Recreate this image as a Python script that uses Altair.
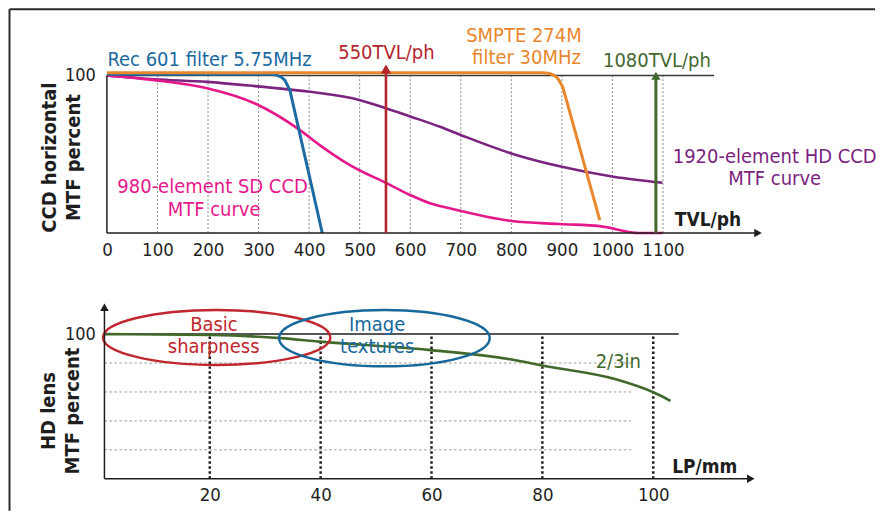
import altair as alt
import pandas as pd

FONT = "DejaVu Sans Condensed, Liberation Sans Narrow, Arial Narrow, sans-serif"
INK = "#1e1e1e"

# ---------------- top panel data: CCD horizontal MTF vs TVL/ph ----------------
tvl_ticks = [0, 100, 200, 300, 400, 500, 600, 700, 800, 900, 1000, 1100]
tvl_grid = [100, 200, 300, 400, 500, 600, 700, 800, 900, 1000, 1100]

rec601_x = [0, 323, 335, 345, 352, 362, 426]
rec601_y = [100.8, 100.8, 100.3, 98.9, 97.0, 90.6, 0]

smpte_x = [0, 862, 876, 886, 893, 902, 975]
smpte_y = [101.7, 101.7, 101.2, 99.8, 97.6, 92.5, 8.2]

sd_ccd_x = [0, 94, 198, 293, 382, 421, 474, 499, 553, 600, 639, 678, 801, 895, 975, 1053, 1099]
sd_ccd_y = [100, 97.0, 91.9, 82.2, 65.3, 55.8, 44.4, 39.9, 31.7, 24.1, 18.9, 15.7, 7.6, 5.7, 4.4, 0, 0]

hd_ccd_x = [0, 94, 198, 293, 402, 501, 553, 580, 600, 659, 701, 800, 900, 1002, 1099]
hd_ccd_y = [100, 97.6, 95.9, 93.2, 89.6, 84.3, 79.0, 76.2, 74.0, 67.4, 62.1, 50.5, 42.0, 35.7, 31.9]

marker_550 = 552
marker_1080 = 1086

top_note_text = ["Rec 601 filter 5.75MHz", "550TVL/ph", "SMPTE 274M", "filter 30MHz",
                 "1080TVL/ph", "1920-element HD CCD", "MTF curve", "980-element SD CCD", "MTF curve"]
top_note_x = [203, 553, 825, 830, 1088, 1321, 1321, 209, 212]
top_note_y = [105.8, 110.7, 121.5, 107.4, 105.5, 44.6, 30.4, 25.2, 10.8]
top_note_series = ["rec601", "m550", "smpte", "smpte", "m1080", "hd", "hd", "sd", "sd"]

# ---------------- bottom panel data: HD lens MTF vs LP/mm ----------------
lp_ticks = [20, 40, 60, 80, 100]
lens_grid_y = [80, 60, 40, 20]
lens_x = [1, 20.3, 32.7, 39.9, 59.4, 74.2, 80.4, 93.1, 100.1, 103.1]
lens_y = [100, 99.4, 97.2, 94.8, 89.1, 82.6, 78.0, 68.9, 59.6, 53.9]

# regions: centre x, centre y, half width (LP/mm), half height (percent)
region_names = ["basic", "texture"]
region_cx = [21.25, 51.5]
region_cy = [97.7, 97.2]
region_hw = [20.5, 19.0]
region_hh = [19.0, 19.5]

bot_note_text = ["Basic", "sharpness", "Image", "textures", "2/3in"]
bot_note_x = [20.75, 20.7, 50.2, 50.2, 93.7]
bot_note_y = [102.2, 87.2, 102.2, 87.2, 76.9]
bot_note_series = ["basic", "basic", "texture", "texture", "lens"]

# ---------------- styling ----------------
COL = {"rec601": "#1b6aa2", "smpte": "#e8872c", "sd": "#e5188b", "hd": "#7b247f",
       "m550": "#b3262d", "m1080": "#44672e", "basic": "#c0272e", "texture": "#17699b",
       "lens": "#41692c"}
NOTE_SIZE = 20

TOP_W, TOP_H = 666, 213
TOP_XDOM, TOP_YDOM = [-6, 1310], [0, 135]
BOT_W, BOT_H = 661, 181
BOT_XDOM, BOT_YDOM = [0.9, 120], [0, 125]

SX_T = alt.Scale(domain=TOP_XDOM, nice=False, zero=False)
SY_T = alt.Scale(domain=TOP_YDOM, nice=False, zero=False)
SX_B = alt.Scale(domain=BOT_XDOM, nice=False, zero=False)
SY_B = alt.Scale(domain=BOT_YDOM, nice=False, zero=False)

AX_XT = alt.Axis(values=tvl_ticks, format="d", domain=False, ticks=False, grid=False,
                 labelPadding=7, labelFontSize=18.5, labelFont=FONT, labelFontWeight="normal",
                 labelColor=INK, labelOverlap=False, labelFlush=False, title=None)
AX_YT = alt.Axis(values=[100], format="d", domain=False, ticks=False, grid=False,
                 labelPadding=8.5, labelFontSize=18, labelFont=FONT, labelFontWeight="normal",
                 labelColor=INK,
                 title=["CCD horizontal", "MTF percent"], titleFont=FONT, titleFontSize=20,
                 titleFontWeight="bold", titleColor=INK, titleAngle=270, titleAlign="center",
                 titleBaseline="middle", titleLineHeight=24, titleX=-54.7, titleY=137)
AX_XB = alt.Axis(values=lp_ticks, format="d", domain=False, ticks=False, grid=False,
                 labelPadding=7, labelFontSize=18.5, labelFont=FONT, labelFontWeight="normal",
                 labelColor=INK, labelOverlap=False, labelFlush=False, title=None)
AX_YB = alt.Axis(values=[100], format="d", domain=False, ticks=False, grid=False,
                 labelPadding=8.5, labelFontSize=18, labelFont=FONT, labelFontWeight="normal",
                 labelColor=INK,
                 title=["HD lens", "MTF percent"], titleFont=FONT, titleFontSize=20,
                 titleFontWeight="bold", titleColor=INK, titleAngle=270, titleAlign="center",
                 titleBaseline="middle", titleLineHeight=24, titleX=-55.1, titleY=112.7)

XT = alt.X("x:Q", scale=SX_T, axis=AX_XT)
YT = alt.Y("y:Q", scale=SY_T, axis=AX_YT)
XB = alt.X("x:Q", scale=SX_B, axis=AX_XB)
YB = alt.Y("y:Q", scale=SY_B, axis=AX_YB)


def df(**cols):
    return pd.DataFrame(cols)


# ================= top panel =================
t_grid = alt.Chart(df(x=tvl_grid, y=[0] * len(tvl_grid), y2=[100] * len(tvl_grid))).mark_rule(
    color="#8a8a8a", strokeWidth=1, strokeDash=[2, 2]).encode(x=XT, y=YT, y2="y2:Q")
t_line100 = alt.Chart(df(x=[0], x2=[1201], y=[100])).mark_rule(
    color="#3a3a3a", strokeWidth=1.4).encode(x=XT, x2="x2:Q", y=YT)


def curve(xs, ys, key, w, interp):
    return alt.Chart(df(x=xs, y=ys)).mark_line(
        color=COL[key], strokeWidth=w, interpolate=interp).encode(x=XT, y=YT)


t_hd = curve(hd_ccd_x, hd_ccd_y, "hd", 2.6, "monotone")
t_sd = curve(sd_ccd_x, sd_ccd_y, "sd", 2.6, "monotone")
t_rec = curve(rec601_x, rec601_y, "rec601", 3, "linear")
t_smpte = curve(smpte_x, smpte_y, "smpte", 3, "linear")

t_axes_v = alt.Chart(df(x=[0], y=[0], y2=[100])).mark_rule(color=INK, strokeWidth=1.5).encode(
    x=XT, y=YT, y2="y2:Q")
t_axes_h = alt.Chart(df(x=[0], x2=[1288], y=[0])).mark_rule(color=INK, strokeWidth=1.5).encode(
    x=XT, x2="x2:Q", y=YT)
t_axes_arrow = alt.Chart(df(x=[1288], y=[0])).mark_point(
    shape="triangle-right", filled=True, size=75, color=INK, opacity=1).encode(x=XT, y=YT)

t_m550 = alt.Chart(df(x=[marker_550], y=[0], y2=[102])).mark_rule(
    color=COL["m550"], strokeWidth=2.6).encode(x=XT, y=YT, y2="y2:Q")
t_m550_head = alt.Chart(df(x=[marker_550], y=[104.1])).mark_point(
    shape="triangle-up", filled=True, size=110, color=COL["m550"], opacity=1).encode(x=XT, y=YT)
t_m1080 = alt.Chart(df(x=[marker_1080], y=[0], y2=[98])).mark_rule(
    color=COL["m1080"], strokeWidth=3).encode(x=XT, y=YT, y2="y2:Q")
t_m1080_head = alt.Chart(df(x=[marker_1080], y=[99.8])).mark_point(
    shape="triangle-up", filled=True, size=85, color=COL["m1080"], opacity=1).encode(x=XT, y=YT)

t_notes = alt.Chart(df(x=top_note_x, y=top_note_y, t=top_note_text, s=top_note_series)).mark_text(
    font=FONT, fontSize=NOTE_SIZE, baseline="alphabetic", align="center").encode(
    x=XT, y=YT, text="t:N",
    color=alt.Color("s:N", scale=alt.Scale(domain=list(COL.keys()), range=list(COL.values())),
                    legend=None))
t_unit = alt.Chart(df(x=[1189], y=[4.75], t=["TVL/ph"])).mark_text(
    font=FONT, fontSize=19, fontWeight="bold", baseline="alphabetic", align="center",
    color=INK).encode(x=XT, y=YT, text="t:N")

# page frame (top and left border lines)
frame_top = alt.Chart(df(a=[0])).mark_rule(color="#2b2b2b", strokeWidth=2).encode(
    x=alt.value(-94.5), x2=alt.value(772), y=alt.value(-11))
frame_left = alt.Chart(df(a=[0])).mark_rule(color="#2b2b2b", strokeWidth=2).encode(
    x=alt.value(-94.5), y=alt.value(-11), y2=alt.value(491))

top = alt.layer(t_grid, t_line100, t_hd, t_sd, t_rec, t_smpte, t_axes_v, t_axes_h, t_axes_arrow,
                t_m550, t_m550_head, t_m1080, t_m1080_head, t_notes, t_unit,
                frame_top, frame_left).properties(width=TOP_W, height=TOP_H)

# ================= bottom panel =================
kx = BOT_W / (BOT_XDOM[1] - BOT_XDOM[0])
ky = BOT_H / (BOT_YDOM[1] - BOT_YDOM[0])
K = 0.5523


def ellipse_path(r):
    return (f"M-1,0C-1,{-K*r:.4f} {-K:.4f},{-r:.4f} 0,{-r:.4f}"
            f"C{K:.4f},{-r:.4f} 1,{-K*r:.4f} 1,0"
            f"C1,{K*r:.4f} {K:.4f},{r:.4f} 0,{r:.4f}"
            f"C{-K:.4f},{r:.4f} -1,{K*r:.4f} -1,0Z")


b_hgrid = alt.Chart(df(x=[1] * 4, x2=[96] * 4, y=lens_grid_y)).mark_rule(
    color="#9a9a9a", strokeWidth=1, strokeDash=[2.5, 2.5]).encode(x=XB, x2="x2:Q", y=YB)
b_vgrid = alt.Chart(df(x=lp_ticks, y=[0] * 5, y2=[100] * 5)).mark_rule(
    color=INK, strokeWidth=2.5, strokeDash=[2.5, 2.5]).encode(x=XB, y=YB, y2="y2:Q")
b_line100 = alt.Chart(df(x=[1], x2=[104.6], y=[100])).mark_rule(
    color=INK, strokeWidth=1.5).encode(x=XB, x2="x2:Q", y=YB)
b_lens = alt.Chart(df(x=lens_x, y=lens_y)).mark_line(
    color=COL["lens"], strokeWidth=2.6, interpolate="monotone").encode(x=XB, y=YB)

b_regions = []
for name, cx, cy, hw, hh in zip(region_names, region_cx, region_cy, region_hw, region_hh):
    r = (hh * ky) / (hw * kx)
    b_regions.append(alt.Chart(df(x=[cx], y=[cy])).mark_point(
        shape=ellipse_path(r), size=(2 * hw * kx) ** 2, filled=False, color=COL[name],
        strokeWidth=2.5, opacity=1).encode(x=XB, y=YB))

b_axes_v = alt.Chart(df(x=[1], y=[0], y2=[118])).mark_rule(color=INK, strokeWidth=1.5).encode(
    x=XB, y=YB, y2="y2:Q")
b_axes_h = alt.Chart(df(x=[1], x2=[117.6], y=[0])).mark_rule(color=INK, strokeWidth=1.5).encode(
    x=XB, x2="x2:Q", y=YB)
b_arrow_up = alt.Chart(df(x=[1], y=[118.6])).mark_point(
    shape="triangle-up", filled=True, size=75, color=INK, opacity=1).encode(x=XB, y=YB)
b_arrow_right = alt.Chart(df(x=[117.6], y=[0])).mark_point(
    shape="triangle-right", filled=True, size=75, color=INK, opacity=1).encode(x=XB, y=YB)

b_notes = alt.Chart(df(x=bot_note_x, y=bot_note_y, t=bot_note_text, s=bot_note_series)).mark_text(
    font=FONT, fontSize=NOTE_SIZE, baseline="alphabetic", align="center").encode(
    x=XB, y=YB, text="t:N",
    color=alt.Color("s:N", scale=alt.Scale(domain=list(COL.keys()), range=list(COL.values())),
                    legend=None))
b_unit = alt.Chart(df(x=[109.3], y=[3.9], t=["LP/mm"])).mark_text(
    font=FONT, fontSize=19, fontWeight="bold", baseline="alphabetic", align="center",
    color=INK).encode(x=XB, y=YB, text="t:N")

bottom = alt.layer(b_hgrid, b_vgrid, b_line100, b_lens, *b_regions, b_axes_v, b_axes_h,
                   b_arrow_up, b_arrow_right, b_notes, b_unit).properties(width=BOT_W, height=BOT_H)

chart = alt.vconcat(top, bottom, spacing=65, bounds="flush").properties(
    padding=0, background="white").configure_view(stroke=None)

chart.save("out.html", embed_options={"renderer": "svg", "actions": False})
